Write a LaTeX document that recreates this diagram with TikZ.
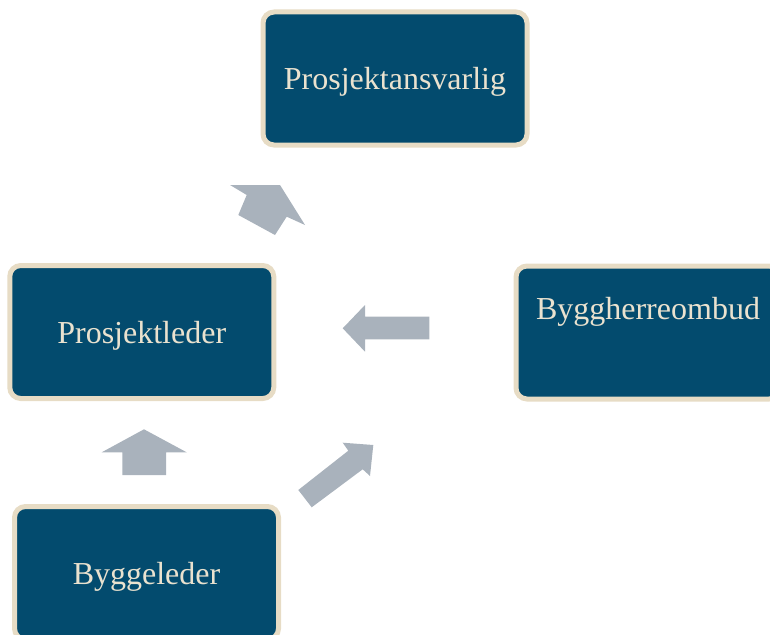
\documentclass[tikz,border=0pt]{standalone}
\usepackage{fontspec}
\setmainfont{Liberation Serif}
\definecolor{boxblue}{RGB}{3,75,110}
\definecolor{boxrim}{RGB}{231,220,197}
\definecolor{boxtext}{RGB}{234,226,207}
\definecolor{arrowgray}{RGB}{169,178,188}

\begin{document}
\begin{tikzpicture}[x=1pt,y=-1pt,
	box/.style={draw=boxrim, line width=5pt, fill=boxblue, rounded corners=11pt,
		minimum width=264pt, minimum height=133pt, inner sep=0pt,
		text height=29pt, text depth=7pt,
		text=boxtext, font=\fontsize{32}{38}\selectfont},
	blockarrow/.style={fill=arrowgray}]
	\useasboundingbox (0,0) rectangle (770,634);
	\clip (0,0) rectangle (770,634);

	\node[box] (ansvarlig) at (395,78.5) {Prosjektansvarlig};
	\node[box] (leder) at (141.75,332) {Prosjektleder};
	\node[box, text depth=56pt] (ombud) at (648,332.5) {Byggherreombud};
	\node[box] (bygg) at (146.5,573) {Byggeleder};

	% leder -> ansvarlig
	\fill[blockarrow] (230,185) -- (280,185) -- (305,225) -- (286.7,216.7) -- (275,235)
		-- (238.3,215) -- (246.7,195) -- cycle;
	% ombud -> leder
	\fill[blockarrow] (342.7,328.3) -- (365,305) -- (365,316.7) -- (429.3,316.7)
		-- (429.3,339.3) -- (365,339.3) -- (365,351.7) -- cycle;
	% bygg -> leder
	\fill[blockarrow] (144,429.3) -- (186.7,452.3) -- (166,452.3) -- (166,475)
		-- (122.3,475) -- (122.3,452.3) -- (101.7,452.3) -- cycle;
	% bygg -> up right
	\fill[blockarrow] (373.3,445) -- (342.7,442.7) -- (348.3,450.7) -- (298.3,490)
		-- (311.7,507.3) -- (362.7,469.3) -- (370,476) -- cycle;
\end{tikzpicture}
\end{document}
